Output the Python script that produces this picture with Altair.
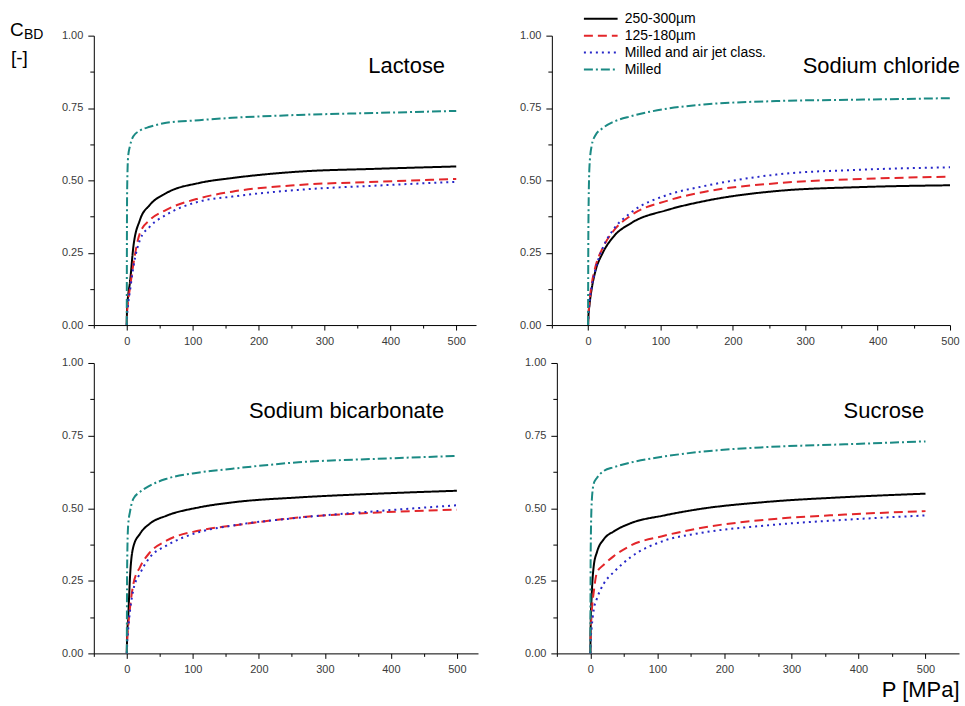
import altair as alt
import pandas as pd

# ---------------- data ----------------
P = [0, 0.5, 2, 5, 10, 20, 35, 60, 110, 160, 260, 380, 500]
series_names = ["250-300µm", "125-180µm", "Milled and air jet class.", "Milled"]
colors = ["#000000", "#e3262a", "#2626c8", "#1b8a84"]
dashes = [[1, 0], [9, 5], [2, 4], [9, 3, 2, 3]]

lactose_250 = [0, 0.06, 0.10, 0.15, 0.27, 0.363, 0.415, 0.456, 0.491, 0.508, 0.530, 0.540, 0.548]
lactose_125 = [0, 0.04, 0.08, 0.13, 0.21, 0.318, 0.363, 0.398, 0.438, 0.461, 0.484, 0.495, 0.505]
lactose_maj = [0, 0.03, 0.07, 0.12, 0.20, 0.294, 0.340, 0.381, 0.427, 0.444, 0.467, 0.482, 0.495]
lactose_mil = [0, 0.45, 0.58, 0.62, 0.652, 0.672, 0.685, 0.699, 0.708, 0.716, 0.726, 0.733, 0.740]

nacl_250 = [0, 0.03, 0.07, 0.125, 0.185, 0.248, 0.305, 0.353, 0.398, 0.428, 0.463, 0.477, 0.483]
nacl_125 = [0, 0.03, 0.08, 0.14, 0.20, 0.265, 0.325, 0.380, 0.430, 0.460, 0.490, 0.505, 0.513]
nacl_maj = [0, 0.03, 0.08, 0.13, 0.19, 0.265, 0.330, 0.390, 0.450, 0.480, 0.520, 0.537, 0.545]
nacl_mil = [0, 0.35, 0.55, 0.62, 0.655, 0.680, 0.702, 0.722, 0.748, 0.762, 0.774, 0.779, 0.784]

bicarb_250 = [0, 0.06, 0.12, 0.27, 0.368, 0.412, 0.447, 0.474, 0.503, 0.520, 0.537, 0.550, 0.560]
bicarb_125 = [0, 0.04, 0.09, 0.16, 0.24, 0.297, 0.348, 0.388, 0.423, 0.440, 0.468, 0.485, 0.495]
bicarb_maj = [0, 0.03, 0.08, 0.15, 0.22, 0.275, 0.331, 0.371, 0.418, 0.440, 0.467, 0.490, 0.510]
bicarb_mil = [0, 0.30, 0.44, 0.49, 0.533, 0.556, 0.578, 0.601, 0.623, 0.636, 0.658, 0.670, 0.680]

sucrose_250 = [0, 0.10, 0.20, 0.30, 0.35, 0.393, 0.420, 0.448, 0.475, 0.496, 0.521, 0.538, 0.550]
sucrose_125 = [0, 0.06, 0.14, 0.21, 0.28, 0.305, 0.335, 0.371, 0.405, 0.430, 0.460, 0.478, 0.490]
sucrose_maj = [0, 0.04, 0.09, 0.15, 0.19, 0.240, 0.280, 0.331, 0.388, 0.413, 0.440, 0.460, 0.475]
sucrose_mil = [0, 0.35, 0.52, 0.584, 0.605, 0.628, 0.641, 0.657, 0.678, 0.693, 0.710, 0.720, 0.730]

x_ticks_left = [-50, 0, 50, 100, 150, 200, 250, 300, 350, 400, 450, 500]
y_ticks = [0, 0.125, 0.25, 0.375, 0.5, 0.625, 0.75, 0.875, 1.0]

FONT = "Liberation Sans"


def make_df(lists):
    rows = []
    for name, vals in zip(series_names, lists):
        for p, c in zip(P, vals):
            rows.append({"P": p, "C": c, "series": name})
    return pd.DataFrame(rows)


def x_axis(title=None):
    return alt.Axis(
        values=x_ticks_left,
        labelExpr="datum.value % 100 == 0 ? datum.label : ''",
        tickSize={"condition": {"test": "datum.value % 100 != 0", "value": 3}, "value": 5},
        labelOverlap=False, labelFlush=False, grid=False,
        domainColor="black", tickColor="black", labelColor="#3a3a3a",
        labelFont=FONT, labelFontSize=11, labelPadding=5,
        title=title, titleFont=FONT, titleFontSize=22, titleFontWeight="normal",
        titleColor="black", titleAnchor="end", titlePadding=5,
    )


def y_axis():
    return alt.Axis(
        values=y_ticks,
        labelExpr="datum.value % 0.25 == 0 ? format(datum.value, '.2f') : ''",
        tickSize={"condition": {"test": "datum.value % 0.25 != 0", "value": 4}, "value": 6},
        labelOverlap=False, grid=False,
        domainColor="black", tickColor="black", labelColor="#3a3a3a",
        labelFont=FONT, labelFontSize=11, labelPadding=5, title=None,
    )


def panel(lists, name, xdom, w, h, tx, ty, legend=False, xtitle=None, extra=None):
    df = make_df(lists)
    if legend:
        leg = alt.Legend(
            title=None, orient="none", legendX=39, legendY=-27,
            symbolType="M-1.95,0H1.95", symbolSize=300, symbolStrokeWidth=2,
            labelFont=FONT, labelFontSize=14, labelColor="black",
            labelOffset=14, padding=0, rowPadding=0,
        )
    else:
        leg = None
    lines = alt.Chart(df).mark_line(strokeWidth=2, interpolate="monotone").encode(
        x=alt.X("P:Q", scale=alt.Scale(domain=xdom, nice=False, zero=False), axis=x_axis(xtitle)),
        y=alt.Y("C:Q", scale=alt.Scale(domain=[0, 1], nice=False), axis=y_axis()),
        color=alt.Color("series:N", scale=alt.Scale(domain=series_names, range=colors), legend=leg),
        strokeDash=alt.StrokeDash("series:N", scale=alt.Scale(domain=series_names, range=dashes), legend=leg),
    )
    label = alt.Chart(pd.DataFrame({"name": [name]})).mark_text(
        align="right", baseline="middle", font=FONT, fontSize=22, color="black"
    ).encode(text="name:N", x=alt.value(tx), y=alt.value(ty))
    layers = [lines, label]
    if extra is not None:
        layers += extra
    return alt.layer(*layers).properties(width=w, height=h)


ytitle_c = alt.Chart(pd.DataFrame({"t": ["C"]})).mark_text(
    align="left", baseline="alphabetic", font=FONT, fontSize=19, color="black"
).encode(text="t:N", x=alt.value(-84), y=alt.value(0))
ytitle_bd = alt.Chart(pd.DataFrame({"t": ["BD"]})).mark_text(
    align="left", baseline="alphabetic", font=FONT, fontSize=14, color="black"
).encode(text="t:N", x=alt.value(-70), y=alt.value(3))
ytitle_br = alt.Chart(pd.DataFrame({"t": ["[-]"]})).mark_text(
    align="left", baseline="alphabetic", font=FONT, fontSize=19, color="black"
).encode(text="t:N", x=alt.value(-83), y=alt.value(28))

tl = panel([lactose_250, lactose_125, lactose_maj, lactose_mil], "Lactose",
           [-50, 530], 383, 290, 352, 30, extra=[ytitle_c, ytitle_bd, ytitle_br])
tr = panel([nacl_250, nacl_125, nacl_maj, nacl_mil], "Sodium chloride",
           [-50, 500], 399, 290, 409, 30, legend=True)
bl = panel([bicarb_250, bicarb_125, bicarb_maj, bicarb_mil], "Sodium bicarbonate",
           [-50, 532], 385, 291, 351, 48)
br = panel([sucrose_250, sucrose_125, sucrose_maj, sucrose_mil], "Sucrose",
           [-50, 550], 403, 291, 368, 48, xtitle="P [MPa]")

row1 = alt.hconcat(tl, tr, spacing=43).resolve_scale(color="independent", strokeDash="independent")
row2 = alt.hconcat(bl, br, spacing=46).resolve_scale(color="independent", strokeDash="independent")

chart = alt.vconcat(row1, row2, spacing=11).resolve_scale(
    color="independent", strokeDash="independent"
).properties(
    padding={"left": 10, "top": 8, "right": 5, "bottom": 4},
    background="white",
).configure_view(stroke=None)

chart.save("out.html", embed_options={"renderer": "svg", "actions": False})
